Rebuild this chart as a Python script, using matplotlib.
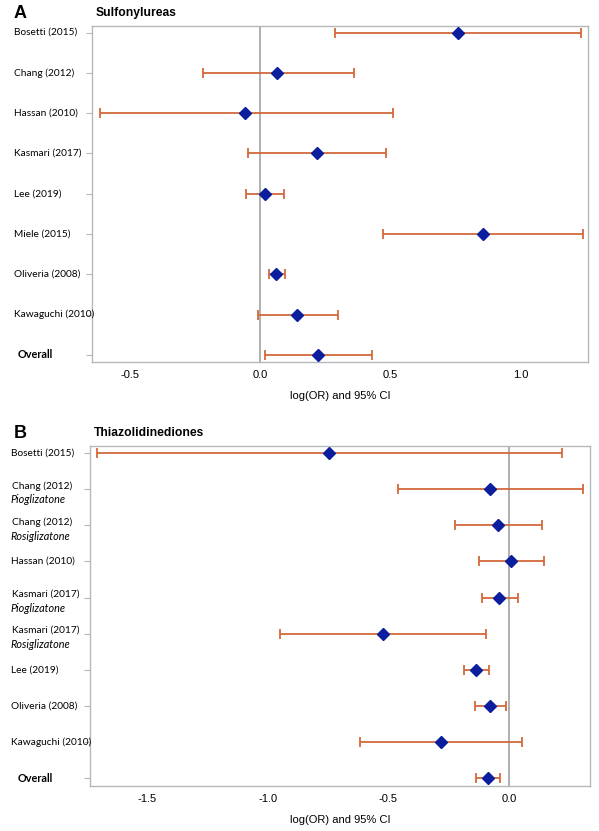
import matplotlib.pyplot as plt
from matplotlib.transforms import blended_transform_factory

# Panel A: Sulfonylureas
su_labels = ["Bosetti (2015)", "Chang (2012)", "Hassan (2010)", "Kasmari (2017)",
             "Lee (2019)", "Miele (2015)", "Oliveria (2008)", "Kawaguchi (2010)", "Overall"]
su_est = [0.760, 0.065, -0.057, 0.216, 0.018, 0.853, 0.062, 0.143, 0.222]
su_lo = [0.286, -0.221, -0.616, -0.045, -0.054, 0.470, 0.032, -0.010, 0.019]
su_hi = [1.231, 0.360, 0.508, 0.481, 0.091, 1.238, 0.097, 0.297, 0.428]

# Panel B: Thiazolidinediones
tz_labels = ["Bosetti (2015)", "Chang (2012)", "Chang (2012)", "Hassan (2010)",
             "Kasmari (2017)", "Kasmari (2017)", "Lee (2019)", "Oliveria (2008)",
             "Kawaguchi (2010)", "Overall"]
tz_sub = ["", "Pioglizatone", "Rosiglizatone", "", "Pioglizatone", "Rosiglizatone",
          "", "", "", ""]
tz_est = [-0.746, -0.077, -0.044, 0.010, -0.041, -0.524, -0.138, -0.079, -0.283, -0.087]
tz_lo = [-1.710, -0.458, -0.224, -0.123, -0.112, -0.948, -0.186, -0.140, -0.619, -0.137]
tz_hi = [0.220, 0.310, 0.137, 0.147, 0.037, -0.095, -0.084, -0.013, 0.054, -0.037]

su_ticks = [-0.5, 0.0, 0.5, 1.0]
tz_ticks = [-1.5, -1.0, -0.5, 0.0]

BAR = "#D2693C"
DOT = "#0A1E9E"
EDGE = "#B4B8BC"
LABEL_FONT = ["Lato", "DejaVu Sans"]
NUM_FONT = ["Liberation Sans", "DejaVu Sans"]

fig = plt.figure(figsize=(5.99, 8.31), dpi=100)


def forest(ax, labels, est, lo, hi, subs, xlim, ticks, letter, title, ypad, lx):
    n = len(labels)
    y = list(range(n))
    ax.axvline(0, color="#A9A9A9", lw=1.3, zorder=1)
    xerr = [[e - l for e, l in zip(est, lo)], [h - e for e, h in zip(est, hi)]]
    ax.errorbar(est, y, xerr=xerr, fmt="none", ecolor=BAR, elinewidth=1.3,
                capsize=3.5, capthick=1.3, zorder=2)
    ax.plot(est, y, "D", color=DOT, markersize=6, zorder=3)
    ax.set_xlim(*xlim)
    ax.set_ylim(n - 1 + ypad, -ypad)
    ax.set_yticks(y)
    ax.set_yticklabels([])
    ax.tick_params(axis="y", length=4, color=EDGE, width=0.8)
    ax.set_xticks(ticks)
    ax.set_xticklabels([f"{t:.1f}" for t in ticks], fontsize=8, family=NUM_FONT)
    ax.tick_params(axis="x", length=0, pad=6)
    ax.set_xlabel("log(OR) and 95% CI", fontsize=8, family=NUM_FONT, labelpad=8)
    for sp in ax.spines.values():
        sp.set_color(EDGE)
        sp.set_linewidth(1.0)

    tr = blended_transform_factory(fig.transFigure, ax.transData)
    for i, lab in enumerate(labels):
        if lab == "Overall":
            ax.text(18 / 599, i, lab, transform=tr, fontsize=7.8, weight="bold",
                    family=LABEL_FONT, va="center", ha="left")
        elif subs and subs[i]:
            ax.text((lx + 1) / 599, i - 0.09, lab, transform=tr, fontsize=7.3,
                    family=LABEL_FONT, va="center", ha="left")
            ax.text((lx - 1) / 599, i + 0.30, subs[i], transform=tr, fontsize=7.8,
                    style="italic", family=LABEL_FONT, va="center", ha="left")
        else:
            ax.text(lx / 599, i, lab, transform=tr, fontsize=7.3,
                    family=LABEL_FONT, va="center", ha="left")

    bb = ax.get_position()
    fig.text(14 / 599, bb.y1 + 12 / 831, letter, fontsize=13, weight="bold",
             family=NUM_FONT, va="center", ha="left")
    fig.text(bb.x0 + 4 / 599, bb.y1 + 13 / 831, title, fontsize=8.7, weight="bold",
             family=NUM_FONT, va="center", ha="left")


axA = fig.add_axes([92 / 599, 1 - 361.7 / 831, 496 / 599, 336 / 831])
forest(axA, su_labels, su_est, su_lo, su_hi, None, (-0.645, 1.257), su_ticks,
       "A", "Sulfonylureas", 0.17, 14)

axB = fig.add_axes([90 / 599, 1 - 785.7 / 831, 500 / 599, 340 / 831])
forest(axB, tz_labels, tz_est, tz_lo, tz_hi, tz_sub, (-1.738, 0.337), tz_ticks,
       "B", "Thiazolidinediones", 0.2, 11)

fig.savefig("out.png", dpi=100)
